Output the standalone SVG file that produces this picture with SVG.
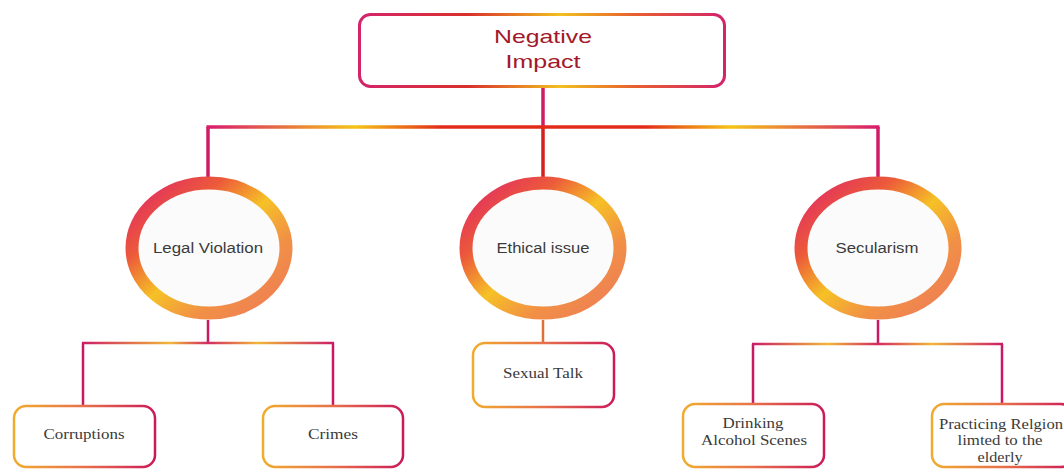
<svg xmlns="http://www.w3.org/2000/svg" width="1064" height="469" viewBox="0 0 1064 469">
<style>
.top{font-family:"Liberation Sans",Arial,sans-serif;font-size:19px;fill:#a3182a;text-anchor:middle}
.mid{font-family:"Liberation Sans",Arial,sans-serif;font-size:14px;fill:#3a3a3a;text-anchor:middle}
.low{font-family:"Liberation Serif","Times New Roman",serif;font-size:14px;fill:#3a3a3a;text-anchor:middle}
.ring{fill:#fbfbfb;stroke:url(#ringG);stroke-width:13}
.leaf{fill:#fff;stroke-width:2.5}
.vline{stroke:#d01c66;stroke-width:3.5;fill:none}
.vthin{stroke:#c81a62;stroke-width:2.5;fill:none}
</style>
<defs>
<linearGradient id="ringG" x1="0" y1="0" x2="1" y2="1">
<stop offset="0" stop-color="#e02668"/>
<stop offset="0.28" stop-color="#ec5a3a"/>
<stop offset="0.5" stop-color="#f6c126"/>
<stop offset="0.72" stop-color="#f19045"/>
<stop offset="1" stop-color="#ee7a5a"/>
</linearGradient>
<linearGradient id="topBox" gradientUnits="userSpaceOnUse" x1="358" y1="0" x2="725" y2="0">
<stop offset="0" stop-color="#d4246a"/>
<stop offset="0.3" stop-color="#d8302c"/>
<stop offset="0.55" stop-color="#f2c020"/>
<stop offset="0.75" stop-color="#e86030"/>
<stop offset="1" stop-color="#d4246a"/>
</linearGradient>
<linearGradient id="mainH" gradientUnits="userSpaceOnUse" x1="208" y1="0" x2="878" y2="0">
<stop offset="0" stop-color="#d81c6c"/>
<stop offset="0.22" stop-color="#f5c418"/>
<stop offset="0.35" stop-color="#e22a18"/>
<stop offset="0.65" stop-color="#e22a18"/>
<stop offset="0.78" stop-color="#f5c418"/>
<stop offset="1" stop-color="#d81c6c"/>
</linearGradient>
<linearGradient id="subH1" gradientUnits="userSpaceOnUse" x1="83" y1="0" x2="333" y2="0">
<stop offset="0" stop-color="#cc1e66"/>
<stop offset="0.35" stop-color="#f0b838"/>
<stop offset="0.5" stop-color="#d22a60"/>
<stop offset="0.7" stop-color="#f0b838"/>
<stop offset="1" stop-color="#cc1e66"/>
</linearGradient>
<linearGradient id="subH3" gradientUnits="userSpaceOnUse" x1="753" y1="0" x2="1002" y2="0">
<stop offset="0" stop-color="#cc1e66"/>
<stop offset="0.3" stop-color="#f0b838"/>
<stop offset="0.5" stop-color="#d22a60"/>
<stop offset="0.72" stop-color="#f0b838"/>
<stop offset="1" stop-color="#cc1e66"/>
</linearGradient>
<linearGradient id="leafG" x1="0" y1="0" x2="1" y2="0">
<stop offset="0" stop-color="#f0ac2e"/>
<stop offset="0.5" stop-color="#e8704a"/>
<stop offset="1" stop-color="#cc1a58"/>
</linearGradient>
</defs>

<g id="connectors">
<line class="vline" x1="543" y1="87" x2="543" y2="127"/>
<line x1="543" y1="127" x2="543" y2="178" stroke="#d4201e" stroke-width="3.5"/>
<line class="vline" x1="208" y1="127" x2="208" y2="178"/>
<line class="vline" x1="878" y1="127" x2="878" y2="178"/>
<line x1="206.5" y1="127" x2="879.5" y2="127" stroke="url(#mainH)" stroke-width="3.5"/>
<line class="vthin" x1="208" y1="320" x2="208" y2="343"/>
<line class="vthin" x1="83" y1="343" x2="83" y2="405"/>
<line class="vthin" x1="333" y1="343" x2="333" y2="405"/>
<line x1="82" y1="343" x2="334" y2="343" stroke="url(#subH1)" stroke-width="2.5"/>
<line x1="543" y1="320" x2="543" y2="342" stroke="#e0703a" stroke-width="2.5"/>
<line class="vthin" x1="878" y1="320" x2="878" y2="344"/>
<line class="vthin" x1="753" y1="344" x2="753" y2="403"/>
<line class="vthin" x1="1002" y1="344" x2="1002" y2="403"/>
<line x1="752" y1="344" x2="1003" y2="344" stroke="url(#subH3)" stroke-width="2.5"/>
</g>

<g id="node-negative-impact">
<rect x="359.5" y="14.5" width="365" height="72" rx="11" fill="#fff" stroke="#d4246a" stroke-width="3"/>
<line x1="370" y1="14.5" x2="714" y2="14.5" stroke="url(#topBox)" stroke-width="3"/>
<line x1="370" y1="86.5" x2="714" y2="86.5" stroke="url(#topBox)" stroke-width="3"/>
<text class="top" x="543" y="43" textLength="98" lengthAdjust="spacingAndGlyphs">Negative</text>
<text class="top" x="543" y="68" textLength="75" lengthAdjust="spacingAndGlyphs">Impact</text>
</g>

<g id="node-legal-violation">
<ellipse class="ring" cx="209" cy="248" rx="77" ry="65"/>
<text class="mid" x="208" y="253" textLength="110" lengthAdjust="spacingAndGlyphs">Legal Violation</text>
</g>
<g id="node-ethical-issue">
<ellipse class="ring" cx="543" cy="248" rx="77" ry="65"/>
<text class="mid" x="543" y="253" textLength="93" lengthAdjust="spacingAndGlyphs">Ethical issue</text>
</g>
<g id="node-secularism">
<ellipse class="ring" cx="878" cy="248" rx="77" ry="65"/>
<text class="mid" x="877" y="253" textLength="83" lengthAdjust="spacingAndGlyphs">Secularism</text>
</g>

<g id="node-corruptions">
<rect class="leaf" x="14" y="406" width="141" height="61" rx="12" stroke="url(#leafG)"/>
<text class="low" x="84" y="439" textLength="81" lengthAdjust="spacingAndGlyphs">Corruptions</text>
</g>
<g id="node-crimes">
<rect class="leaf" x="263" y="406" width="140" height="61" rx="12" stroke="url(#leafG)"/>
<text class="low" x="333" y="439" textLength="50" lengthAdjust="spacingAndGlyphs">Crimes</text>
</g>
<g id="node-sexual-talk">
<rect class="leaf" x="473" y="343" width="141" height="64" rx="12" stroke="url(#leafG)"/>
<text class="low" x="543" y="378" textLength="80" lengthAdjust="spacingAndGlyphs">Sexual Talk</text>
</g>
<g id="node-drinking">
<rect class="leaf" x="683" y="404" width="141" height="63" rx="12" stroke="url(#leafG)"/>
<text class="low" x="753" y="428" textLength="61" lengthAdjust="spacingAndGlyphs">Drinking</text>
<text class="low" x="754" y="445" textLength="106" lengthAdjust="spacingAndGlyphs">Alcohol Scenes</text>
</g>
<g id="node-practicing">
<rect class="leaf" x="932" y="404" width="141" height="63" rx="12" stroke="url(#leafG)"/>
<text class="low" x="1001" y="429" textLength="124" lengthAdjust="spacingAndGlyphs">Practicing Relgion</text>
<text class="low" x="1000" y="445" textLength="85" lengthAdjust="spacingAndGlyphs">limted to the</text>
<text class="low" x="1000" y="462" textLength="45" lengthAdjust="spacingAndGlyphs">elderly</text>
</g>
</svg>
